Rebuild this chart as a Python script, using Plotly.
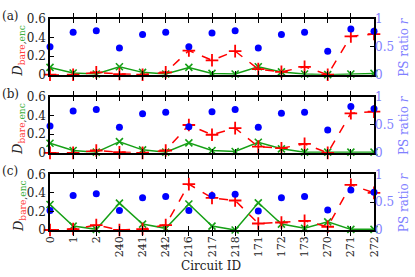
import plotly.graph_objects as go

circuit_ids = ["0", "1", "2", "240", "241", "242", "216", "217", "218",
               "171", "172", "173", "270", "271", "272"]

# Panel (a)
bare_a = [0.0, 0.0, 0.025, 0.007, 0.0, 0.025, 0.26, 0.155, 0.254, 0.06, 0.03, 0.085, 0.0, 0.413, 0.438]
enc_a = [0.078, 0.018, 0.007, 0.085, 0.025, 0.007, 0.078, 0.014, 0.007, 0.085, 0.03, 0.007, 0.0, 0.007, 0.014]
ps_a = [0.50, 0.76, 0.79, 0.48, 0.72, 0.76, 0.50, 0.75, 0.79, 0.48, 0.72, 0.76, 0.42, 0.82, 0.78]

# Panel (b)
bare_b = [0.0, 0.0, 0.025, 0.007, 0.0, 0.025, 0.30, 0.195, 0.266, 0.067, 0.05, 0.096, 0.0, 0.426, 0.444]
enc_b = [0.103, 0.025, 0.007, 0.12, 0.032, 0.007, 0.107, 0.025, 0.014, 0.114, 0.043, 0.007, 0.007, 0.007, 0.007]
ps_b = [0.48, 0.75, 0.78, 0.46, 0.70, 0.73, 0.47, 0.74, 0.78, 0.46, 0.71, 0.73, 0.41, 0.83, 0.79]

# Panel (c)
bare_c = [0.0, 0.01, 0.053, 0.0, 0.01, 0.053, 0.494, 0.346, 0.318, 0.07, 0.081, 0.099, 0.035, 0.487, 0.40]
enc_c = [0.275, 0.042, 0.007, 0.29, 0.064, 0.018, 0.28, 0.042, 0.0, 0.293, 0.064, 0.018, 0.088, 0.007, 0.007]
ps_c = [0.35, 0.62, 0.65, 0.35, 0.58, 0.60, 0.35, 0.62, 0.64, 0.34, 0.58, 0.60, 0.36, 0.72, 0.68]

left_ticks = [0, 0.2, 0.4, 0.6]
left_ticktext = ["0", "0.2", "0.4", "0.6"]
right_ticks = [0, 0.5, 1]
right_ticktext = ["0", "0.5", "1"]
panel_labels = ["(a)", "(b)", "(c)"]

panels = [(bare_a, enc_a, ps_a), (bare_b, enc_b, ps_b), (bare_c, enc_c, ps_c)]

FONT = "DejaVu Serif, Liberation Serif, serif"
RED = "#ff0000"
GREEN = "#16a016"
BLUE = "#0000ff"
LBLUE = "#8080ff"

fig = go.Figure()

W, H = 415, 277
ml, mr, mt, mb = 50, 41, 14, 47
ph = H - mt - mb
pw = W - ml - mr
panel_px = [(14, 71), (94, 151), (173, 230)]


def py(p):
    return 1 - (p - mt) / ph


def px(p):
    return (p - ml) / pw


layout = {}
annotations = []
for i, (bare, enc, ps) in enumerate(panels):
    r = i + 1
    xa = "x" if r == 1 else f"x{r}"
    yl_n = 2 * r - 1
    yr_n = 2 * r
    yl = "y" if yl_n == 1 else f"y{yl_n}"
    yr = f"y{yr_n}"

    fig.add_trace(go.Scatter(x=circuit_ids, y=ps, xaxis=xa, yaxis=yr, mode="markers",
                             marker=dict(color=BLUE, size=7, symbol="circle"),
                             cliponaxis=False, showlegend=False))
    fig.add_trace(go.Scatter(x=circuit_ids, y=enc, xaxis=xa, yaxis=yl, mode="lines+markers",
                             line=dict(color=GREEN, width=1.5),
                             marker=dict(color=GREEN, size=7, symbol="x-thin",
                                         line=dict(color=GREEN, width=1.6)),
                             cliponaxis=False, showlegend=False))
    fig.add_trace(go.Scatter(x=circuit_ids, y=bare, xaxis=xa, yaxis=yl, mode="lines+markers",
                             line=dict(color=RED, width=1.5, dash="dash"),
                             marker=dict(color=RED, size=9, symbol="cross-thin",
                                         line=dict(color=RED, width=1.8)),
                             cliponaxis=False, showlegend=False))

    top, bot = panel_px[i]
    dom = [py(bot), py(top)]
    xkey = "xaxis" if r == 1 else f"xaxis{r}"
    ylkey = "yaxis" if yl_n == 1 else f"yaxis{yl_n}"
    yrkey = f"yaxis{yr_n}"
    layout[xkey] = dict(domain=[0, 1], anchor=yl, type="category", range=[0, 14],
                        categoryorder="array", categoryarray=circuit_ids,
                        showline=True, linecolor="black", linewidth=1.5, mirror="allticks",
                        ticks="inside", ticklen=4, tickwidth=1.2, tickcolor="black",
                        showgrid=False, zeroline=False,
                        showticklabels=(r == 3), tickangle=-90,
                        tickfont=dict(family=FONT, size=11, color="#222"))
    layout[ylkey] = dict(domain=dom, anchor=xa, range=[0, 0.6],
                         tickvals=left_ticks, ticktext=left_ticktext,
                         showline=True, linecolor="black", linewidth=1.5, mirror=True,
                         ticks="inside", ticklen=4, tickwidth=1.2, tickcolor="black",
                         showgrid=False, zeroline=False,
                         tickfont=dict(family=FONT, size=12, color="#222"))
    layout[yrkey] = dict(domain=dom, anchor=xa, overlaying=yl, side="right", range=[0, 1],
                         tickvals=right_ticks, ticktext=right_ticktext,
                         showline=False,
                         ticks="inside", ticklen=4, tickwidth=1.2, tickcolor="black",
                         showgrid=False, zeroline=False,
                         tickfont=dict(family=FONT, size=12, color=LBLUE))

    mid = (top + bot) / 2
    annotations.append(dict(text=panel_labels[i], xref="paper", yref="paper",
                            x=px(0), y=py(top - 3), xanchor="left", yanchor="middle",
                            showarrow=False, font=dict(family=FONT, size=12, color="#222")))
    annotations.append(dict(text="<i>D</i><sub><span style='color:#ff4040'>bare</span>,"
                                 "<span style='color:#40b040'>enc</span></sub>",
                            xref="paper", yref="paper", x=px(19), y=py(mid + 4),
                            xanchor="center", yanchor="middle", textangle=-90,
                            showarrow=False, font=dict(family=FONT, size=13, color="#222")))
    annotations.append(dict(text="PS ratio <i>r</i>", xref="paper", yref="paper",
                            x=px(404), y=py(mid), xanchor="center", yanchor="middle",
                            textangle=-90, showarrow=False,
                            font=dict(family=FONT, size=12, color=LBLUE)))

annotations.append(dict(text="Circuit ID", xref="paper", yref="paper",
                        x=px(211), y=py(266.5), xanchor="center", yanchor="middle",
                        showarrow=False, font=dict(family=FONT, size=12, color="#222")))

fig.update_layout(**layout)
fig.update_layout(width=W, height=H, margin=dict(l=ml, r=mr, t=mt, b=mb, pad=0),
                  paper_bgcolor="white", plot_bgcolor="white",
                  annotations=annotations, showlegend=False)

fig.write_html("out.html", config={"displayModeBar": False},
               post_script="document.body.style.margin='0';document.body.style.overflow='hidden';")
